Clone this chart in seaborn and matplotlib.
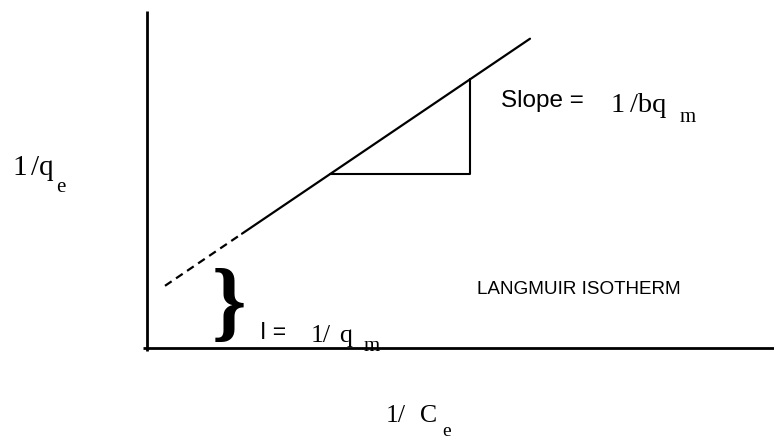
import matplotlib
matplotlib.use("Agg")
import matplotlib.pyplot as plt
import pandas as pd
import seaborn as sns

# Linearised Langmuir plot: 1/q_e = 1/q_m + (1/(b q_m)) * (1/C_e)
intercept = 0.50          # 1/q_m
slope = 0.677             # 1/(b q_m)
x_extrap = [0.18, 0.95]   # extrapolated (dashed) part of the line
x_data = [0.95, 3.83]     # measured (solid) part of the line
x_tri = [1.83, 3.23]      # slope triangle base

sns.set_theme(style="white")

W, H = 774, 439
X0, Y0 = 147, 349          # pixel position of the diagram origin
UNIT = 100.0               # pixels per data unit

fig = plt.figure(figsize=(W / 100, H / 100), dpi=100)
ax = fig.add_axes([0, 0, 1, 1])
ax.set_xlim(-X0 / UNIT, (W - X0) / UNIT)
ax.set_ylim(-(H - Y0) / UNIT, Y0 / UNIT)
ax.axis("off")


def line_y(xs):
    return [intercept + slope * x for x in xs]


def put(s, px, py, size, family, **kw):
    """Place text with its left baseline at a pixel position."""
    ax.text((px - X0) / UNIT, (Y0 - py) / UNIT, s, fontsize=size,
            family=family, ha=kw.pop("ha", "left"),
            va=kw.pop("va", "baseline"), color="black", **kw)


# axes of the diagram
ax.plot([-0.04, (W - X0) / UNIT], [0, 0], color="black", lw=2.0,
        solid_capstyle="butt")
ax.plot([0, 0], [-0.03, 3.37], color="black", lw=2.0, solid_capstyle="butt")

# isotherm line
df_ext = pd.DataFrame({"x": x_extrap, "y": line_y(x_extrap)})
df_dat = pd.DataFrame({"x": x_data, "y": line_y(x_data)})
sns.lineplot(data=df_ext, x="x", y="y", ax=ax, color="black", lw=1.6,
             estimator=None, sort=False)
ax.lines[-1].set_dashes((3.6, 2.4))
sns.lineplot(data=df_dat, x="x", y="y", ax=ax, color="black", lw=1.6,
             estimator=None, sort=False)

# slope triangle
y_lo = line_y([x_tri[0]])[0]
y_hi = line_y([x_tri[1]])[0]
tri = pd.DataFrame({"x": [x_tri[0], x_tri[1], x_tri[1]],
                    "y": [y_lo, y_lo, y_hi]})
sns.lineplot(data=tri, x="x", y="y", ax=ax, color="black", lw=1.5,
             estimator=None, sort=False)

serif = "Liberation Serif"
sans = "Liberation Sans"

# y-axis label 1/q_e
put("1", 12, 175, 21, serif)
put("/q", 31, 175, 21, serif)
put("e", 56, 192, 15, serif)

# slope annotation
put("Slope =", 501, 107, 17.5, sans)
put("1", 611, 112, 20.5, serif)
put("/bq", 630, 112, 20.5, serif)
put("m", 680, 122, 15, serif)

put("LANGMUIR ISOTHERM", 477, 294, 13.6, sans)

# intercept brace and label
put("}", 229, 309, 63, serif, ha="center", va="center", fontweight="bold")
put("I =", 260, 339, 16.5, sans)
put("1/", 311, 342, 18.5, serif)
put("q", 339, 342, 18.5, serif)
put("m", 364, 351, 15, serif)

# x-axis label 1/C_e
put("1/", 386, 422, 18.5, serif)
put("C", 420, 422, 18.5, serif)
put("e", 442, 436, 14, serif)

fig.savefig("out.png", dpi=100, facecolor="white")
